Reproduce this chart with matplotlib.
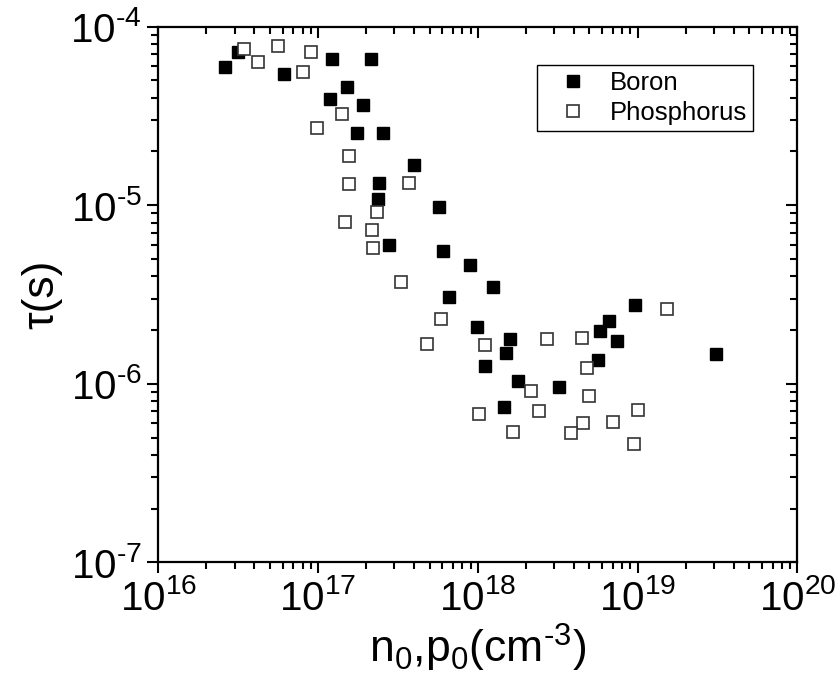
import numpy as np
import matplotlib
matplotlib.use('Agg')
import matplotlib.pyplot as plt
import matplotlib.lines as mlines
from matplotlib.ticker import NullFormatter, FixedLocator

plt.rcParams['font.family'] = ['Liberation Sans', 'DejaVu Sans']
plt.rcParams['mathtext.fontset'] = 'custom'
plt.rcParams['mathtext.rm'] = 'Liberation Sans'
plt.rcParams['mathtext.it'] = 'Liberation Sans'
plt.rcParams['mathtext.default'] = 'regular'

# Boron
boron_n = [2.60e16, 3.17e16, 6.12e16, 1.22e17, 2.14e17, 1.52e17, 1.19e17, 1.92e17,
           1.74e17, 2.54e17, 3.97e17, 2.40e17, 2.38e17, 5.69e17, 2.78e17, 6.08e17,
           8.94e17, 1.24e18, 6.57e17, 9.84e17, 1.59e18, 1.51e18, 1.11e18, 1.79e18,
           3.22e18, 1.46e18, 9.68e18, 6.60e18, 5.80e18, 7.47e18, 5.63e18, 3.10e19]
boron_tau = [5.92e-5, 7.24e-5, 5.43e-5, 6.59e-5, 6.57e-5, 4.59e-5, 3.95e-5, 3.64e-5,
             2.55e-5, 2.53e-5, 1.68e-5, 1.34e-5, 1.09e-5, 9.74e-6, 6.01e-6, 5.54e-6,
             4.63e-6, 3.47e-6, 3.07e-6, 2.09e-6, 1.78e-6, 1.49e-6, 1.25e-6, 1.04e-6,
             9.55e-7, 7.44e-7, 2.75e-6, 2.25e-6, 1.98e-6, 1.74e-6, 1.36e-6, 1.47e-6]

# Phosphorus
phos_n = [3.42e16, 4.21e16, 5.59e16, 9.00e16, 8.09e16, 1.41e17, 9.89e16, 1.56e17,
          1.56e17, 3.69e17, 2.33e17, 1.47e17, 2.17e17, 2.21e17, 3.31e17, 5.91e17,
          4.81e17, 1.11e18, 2.71e18, 4.49e18, 1.52e19, 4.83e18, 2.15e18, 4.97e18,
          1.02e18, 2.43e18, 1.01e19, 4.55e18, 7.02e18, 1.65e18, 3.83e18, 9.50e18]
phos_tau = [7.47e-5, 6.37e-5, 7.80e-5, 7.19e-5, 5.55e-5, 3.23e-5, 2.71e-5, 1.88e-5,
            1.32e-5, 1.34e-5, 9.13e-6, 8.05e-6, 7.26e-6, 5.78e-6, 3.70e-6, 2.32e-6,
            1.67e-6, 1.65e-6, 1.77e-6, 1.80e-6, 2.61e-6, 1.23e-6, 9.11e-7, 8.57e-7,
            6.77e-7, 7.04e-7, 7.10e-7, 6.00e-7, 6.11e-7, 5.35e-7, 5.28e-7, 4.60e-7]

xlim = (1e16, 1e20)
ylim = (1e-7, 1e-4)
xticks = [1e16, 1e17, 1e18, 1e19, 1e20]
xticklabels = [r'$10^{16}$', r'$10^{17}$', r'$10^{18}$', r'$10^{19}$', r'$10^{20}$']
yticks = [1e-7, 1e-6, 1e-5, 1e-4]
yticklabels = [r'$10^{\text{-}7}$', r'$10^{\text{-}6}$', r'$10^{\text{-}5}$', r'$10^{\text{-}4}$']

# minor ticks at 2..9 within each decade
xminor = [m * d for d in xticks[:-1] for m in range(2, 10)]
yminor = [m * d for d in yticks[:-1] for m in range(2, 10)]

fig = plt.figure(figsize=(8.35, 6.81), dpi=100)
ax = fig.add_axes([0.1896, 0.1743, 0.7653, 0.7865])

ax.plot(boron_n, boron_tau, 's', ms=8.5, color='black', mec='black', mew=1, label='Boron')
ax.plot(phos_n, phos_tau, 's', ms=8.5, mfc='white', mec='#333333', mew=1.2, label='Phosphorus')

ax.set_xscale('log')
ax.set_yscale('log')
ax.set_xlim(xlim)
ax.set_ylim(ylim)
ax.xaxis.set_major_locator(FixedLocator(xticks))
ax.xaxis.set_minor_locator(FixedLocator(xminor))
ax.xaxis.set_minor_formatter(NullFormatter())
ax.yaxis.set_major_locator(FixedLocator(yticks))
ax.yaxis.set_minor_locator(FixedLocator(yminor))
ax.yaxis.set_minor_formatter(NullFormatter())
ax.set_xticklabels(xticklabels)
ax.set_yticklabels(yticklabels)

for s in ax.spines.values():
    s.set_linewidth(1.6)

ax.tick_params(which='both', bottom=True, left=True, top=True, right=True,
               labeltop=False, labelright=False,
               direction='out', width=1.5, color='black')
ax.tick_params(which='major', length=8, labelsize=29, pad=4)
ax.tick_params(which='minor', length=4.8)

ax.set_xlabel(r'n$_0$,p$_0$(cm$^{\text{-}3}$)', fontsize=32, labelpad=3)
ax.set_ylabel('τ(s)', fontsize=32, labelpad=6)

leg = ax.legend(loc='upper right', bbox_to_anchor=(0.9307, 0.9285), fontsize=18.5,
                borderaxespad=0, fancybox=False, edgecolor='black', framealpha=1,
                handlelength=2.3, handletextpad=0.25,
                borderpad=0.25, labelspacing=0.2)
leg.get_frame().set_linewidth(1.0)

# top and right ticks point inward, bottom and left outward
fig.canvas.draw()
for t in ax.xaxis.get_major_ticks() + ax.xaxis.get_minor_ticks():
    t.tick2line.set_marker(mlines.TICKDOWN)
for t in ax.yaxis.get_major_ticks() + ax.yaxis.get_minor_ticks():
    t.tick2line.set_marker(mlines.TICKLEFT)

fig.savefig('out.png', dpi=100)
